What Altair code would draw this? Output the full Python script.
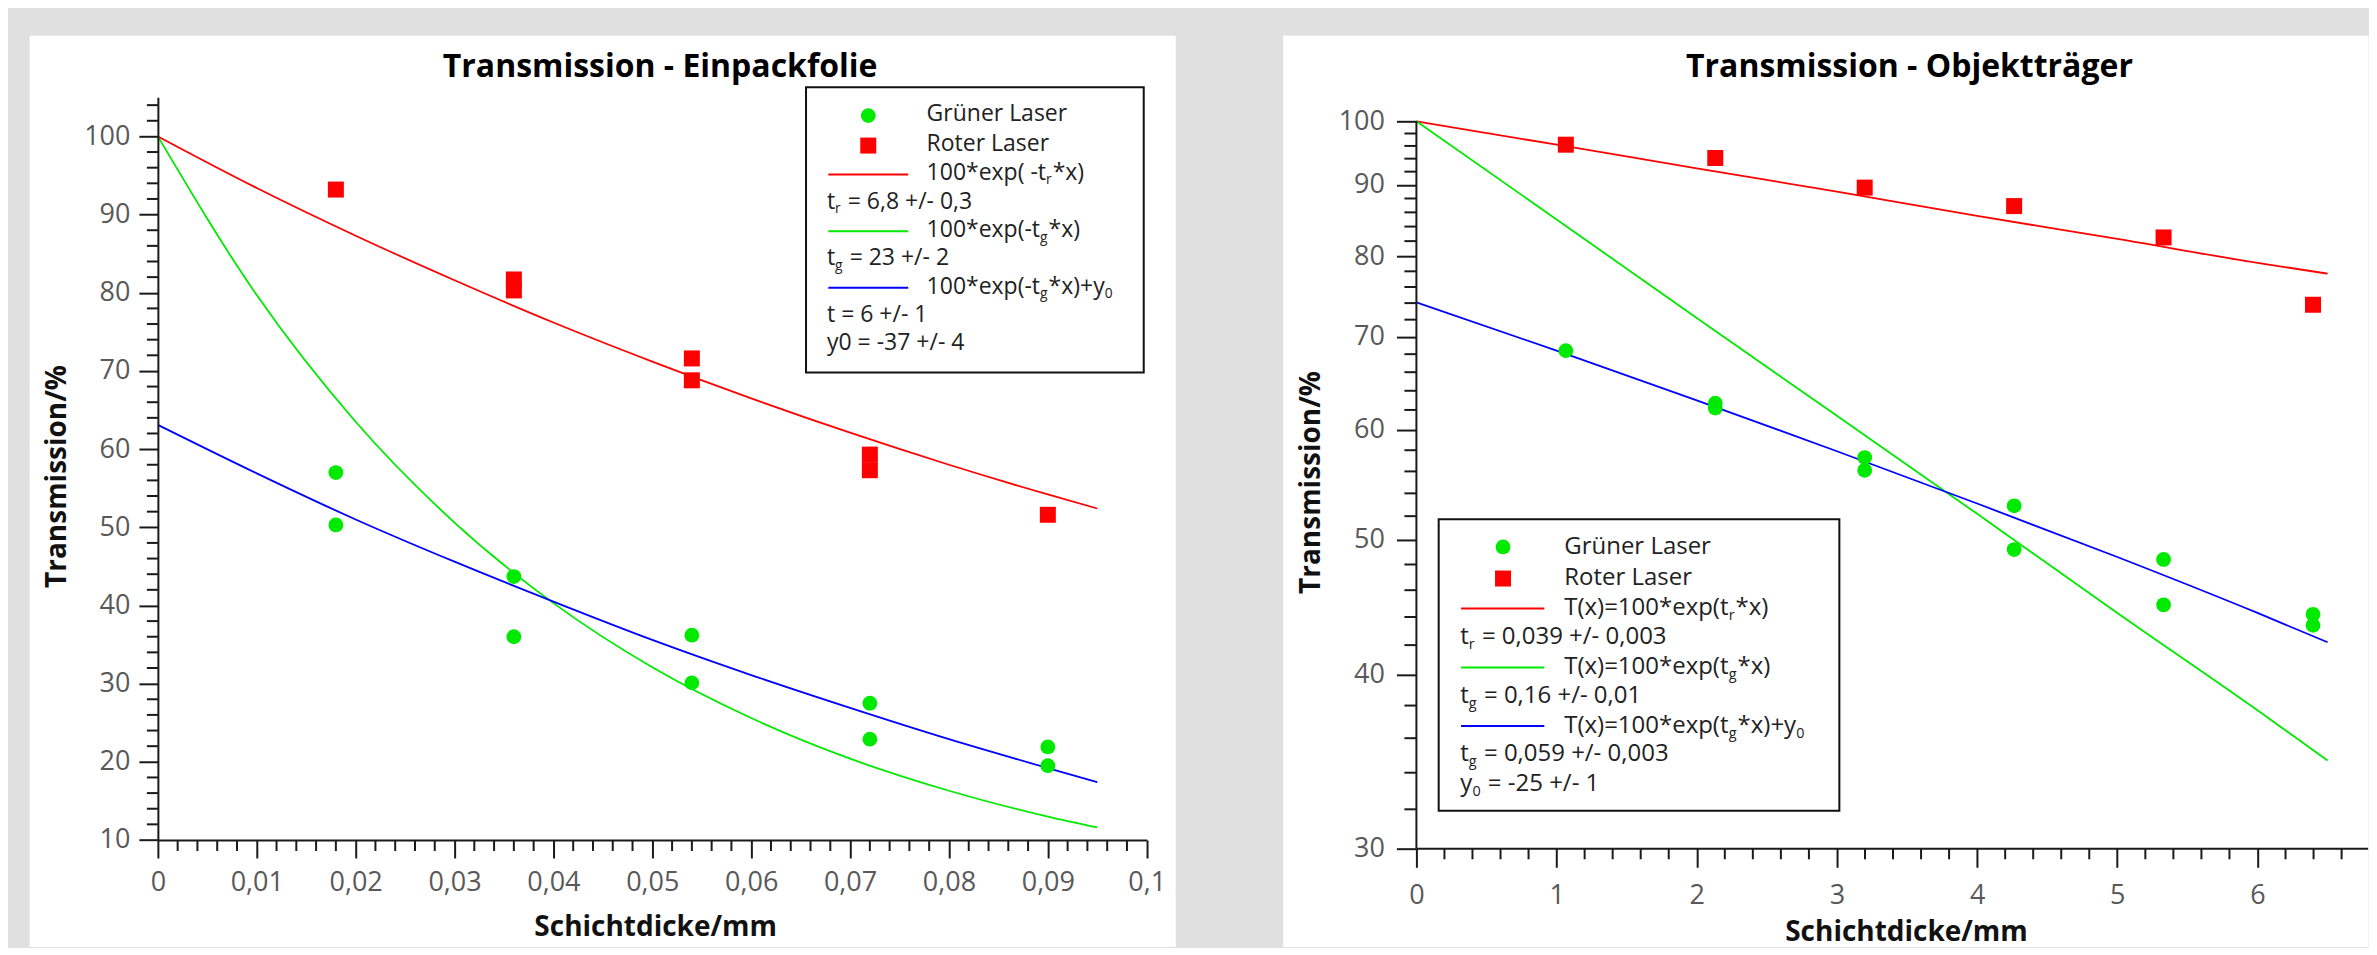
import altair as alt
import pandas as pd

FONT = "Open Sans"
RED = "#ff0000"
GREEN = "#00ea00"
BLUE = "#0000ff"
AX = "#1a1a1a"
LAB = "#595959"
TXT = "#222222"

# ---------------- Left panel: Einpackfolie ----------------
l_red_x = [0.018, 0.036, 0.036, 0.054, 0.054, 0.072, 0.072, 0.090]
l_red_y = [93.2, 81.7, 80.3, 71.6, 68.8, 59.3, 57.3, 51.6]
l_green_x = [0.018, 0.018, 0.036, 0.036, 0.054, 0.054, 0.072, 0.072, 0.090, 0.090]
l_green_y = [57.0, 50.3, 43.7, 36.0, 36.2, 30.1, 27.5, 22.9, 21.9, 19.5]
l_fit_x = [0, 0.01, 0.02, 0.03, 0.04, 0.05, 0.06, 0.07, 0.08, 0.09, 0.095]
l_fit_red = [100, 93.4, 87.3, 81.6, 76.2, 71.2, 66.5, 62.1, 58.0, 54.2, 52.4]
l_fit_green = [100, 79.7, 63.5, 50.6, 40.3, 32.1, 25.6, 20.4, 16.3, 13.0, 11.6]
l_fit_blue = [63.1, 56.9, 51.0, 45.6, 40.5, 35.6, 31.1, 26.9, 22.9, 19.2, 17.4]
l_xticks = [0, 0.01, 0.02, 0.03, 0.04, 0.05, 0.06, 0.07, 0.08, 0.09, 0.1]
l_yticks = [10, 20, 30, 40, 50, 60, 70, 80, 90, 100]

# ---------------- Right panel: Objekttraeger ----------------
r_red_x = [1.066, 2.132, 3.198, 4.264, 5.33, 6.396]
r_red_y = [96.2, 94.1, 89.6, 86.9, 82.5, 73.8]
r_green_x = [1.066, 2.132, 2.132, 3.198, 3.198, 4.264, 4.264, 5.33, 5.33, 6.396, 6.396]
r_green_y = [68.4, 62.7, 62.2, 57.3, 56.1, 52.9, 49.2, 48.4, 44.9, 44.2, 43.4]
r_fit_x = [0, 1, 2, 3, 4, 5, 6, 6.5]
r_fit_red = [100, 96.2, 92.5, 89.0, 85.5, 82.3, 79.1, 77.7]
r_fit_green = [100, 85.0, 72.2, 61.4, 52.2, 44.3, 37.7, 34.7]
r_fit_blue = [74.1, 68.4, 63.0, 57.9, 53.1, 48.6, 44.3, 42.2]
r_xticks = [0, 1, 2, 3, 4, 5, 6]
r_yticks = [30, 40, 50, 60, 70, 80, 90, 100]

# minor tick positions
l_xminor = [round(i * 0.002, 3) for i in range(1, 50) if i % 5]
l_yminor = [v for v in range(12, 105, 2) if v % 10]
r_xminor = [round(i * 0.2, 1) for i in range(1, 34) if i % 5]
r_yminor = [v for v in range(32, 100, 2) if v % 10]

# Open Sans advance widths (units of 1/2048 em) for subscript placement
W = {"0": 1171, "1": 1171, "2": 1171, "3": 1171, "*": 1130, "e": 1149, "x": 1073,
     "p": 1255, "(": 606, ")": 606, " ": 532, "-": 659, "t": 723, "T": 1139,
     "=": 1171, "y": 1028, "r": 836, "g": 1122, "+": 1171}


def tw(s, size):
    return sum(W.get(c, 1100) for c in s) / 2048.0 * size


def one():
    return pd.DataFrame({"k": [0]})


def rect(x, x2, y, y2, fill, stroke=None):
    kw = dict(fill=fill)
    if stroke:
        kw.update(stroke=stroke, strokeWidth=2)
    return alt.Chart(one()).mark_rect(**kw).encode(
        x=alt.value(x), x2=alt.value(x2), y=alt.value(y), y2=alt.value(y2))


def text(s, x, y, size, color=TXT, weight="normal", align="left"):
    return alt.Chart(pd.DataFrame({"t": [s]})).mark_text(
        align=align, baseline="alphabetic", font=FONT, fontSize=size,
        fontWeight=weight, color=color).encode(
        x=alt.value(x), y=alt.value(y), text="t:N")


def rich(parts, x, y, size):
    out = []
    cx = x
    for s, sub in parts:
        fs = size * 0.6 if sub else size
        yy = y + size * 0.2 if sub else y
        lead = len(s) - len(s.lstrip(" "))
        cx += tw(" " * lead, fs)
        body = s.lstrip(" ")
        out.append(text(body, cx, yy, fs))
        cx += tw(body, fs) + (1.0 if sub else 0)
    return out


def sym(shape, color, size, x, y):
    return alt.Chart(one()).mark_point(shape=shape, filled=True, size=size,
                                       opacity=1, color=color, strokeWidth=0).encode(
        x=alt.value(x), y=alt.value(y))


def seg(color, x, x2, y):
    return alt.Chart(one()).mark_rule(color=color, strokeWidth=2).encode(
        x=alt.value(x), x2=alt.value(x2), y=alt.value(y))


common = dict(grid=False, zindex=1, domainColor=AX, domainWidth=2, tickColor=AX,
              tickWidth=2, labelFont=FONT, labelColor=LAB, labelFontSize=27,
              labelFlush=False, labelOverlap=False, titleFont=FONT,
              titleFontWeight="bold", titleColor="#111111", titleFontSize=28)


def panel(W_, H_, xs, ys, xaxis, yaxis, red_x, red_y, green_x, green_y,
          fit_x, fits, xminor, yminor, ymin_len, bg, title, title_xy, legend,
          yline=None):
    X = lambda: alt.X("x:Q", scale=xs, axis=xaxis)
    Y = lambda: alt.Y("y:Q", scale=ys, axis=yaxis)
    layers = [rect(*bg, fill="white")]
    for col, vals in fits:
        layers.append(alt.Chart(pd.DataFrame({"x": fit_x, "y": vals})).mark_line(
            color=col, strokeWidth=1.8, interpolate="monotone").encode(x=X(), y=Y()))
    layers.append(alt.Chart(pd.DataFrame({"x": green_x, "y": green_y})).mark_point(
        shape="circle", filled=True, size=219, opacity=1, color=GREEN, strokeWidth=0
    ).encode(x=X(), y=Y()))
    layers.append(alt.Chart(pd.DataFrame({"x": red_x, "y": red_y})).mark_point(
        shape="square", filled=True, size=256, opacity=1, color=RED, strokeWidth=0
    ).encode(x=X(), y=Y()))
    layers.append(alt.Chart(pd.DataFrame({"x": xminor})).mark_rule(
        color=AX, strokeWidth=2).encode(
        x=X(), y=alt.value(H_), y2=alt.value(H_ + 11)))
    layers.append(alt.Chart(pd.DataFrame({"y": yminor})).mark_rule(
        color=AX, strokeWidth=2).encode(
        y=Y(), x=alt.value(-ymin_len), x2=alt.value(0)))
    if yline:
        layers.append(alt.Chart(pd.DataFrame({"y": [yline[0]], "y2": [yline[1]]})).mark_rule(
            color=AX, strokeWidth=2).encode(y=Y(), y2="y2:Q", x=alt.value(0)))
    layers += legend
    layers.append(text(title, title_xy[0], title_xy[1], 32, "#000000", "bold", "center"))
    return alt.layer(*layers).properties(width=W_, height=H_)


# ---- left ----
LW, LH = 989.7, 743.3
xaxis_L = alt.Axis(values=l_xticks, labelExpr="replace(format(datum.value, '.2~f'), '.', ',')",
                   tickSize=18, labelPadding=12, title="Schichtdicke/mm",
                   titleX=497.7, titleY=96, titleBaseline="alphabetic", **common)
yaxis_L = alt.Axis(values=l_yticks, format="d", tickSize=19, labelPadding=9,
                   title="Transmission/%", titleX=-100.6, titleY=379,
                   titleBaseline="middle", **common)
LS = 23
legend_L = [rect(648.7, 986.7, -10, 275.3, fill="white", stroke="#111111"),
            sym("circle", GREEN, 219, 711, 18.3),
            sym("square", RED, 256, 711, 48.3),
            text("Grüner Laser", 769.4, 24.0, LS),
            text("Roter Laser", 769.4, 54.0, LS),
            seg(RED, 671, 751, 77.3),
            seg(GREEN, 671, 751, 134),
            seg(BLUE, 671, 751, 190.6)]
legend_L += rich([("100*exp( -t", False), ("r", True), ("*x)", False)], 769.4, 82.6, LS)
legend_L += rich([("t", False), ("r", True), (" = 6,8 +/- 0,3", False)], 669.7, 111.6, LS)
legend_L += rich([("100*exp(-t", False), ("g", True), ("*x)", False)], 769.4, 140, LS)
legend_L += rich([("t", False), ("g", True), (" = 23 +/- 2", False)], 669.7, 168.3, LS)
legend_L += rich([("100*exp(-t", False), ("g", True), ("*x)+y", False), ("0", True)], 769.4, 196.6, LS)
legend_L += [text("t = 6 +/- 1", 669.7, 225, LS), text("y0 = -37 +/- 4", 669.7, 253.3, LS)]

left = panel(LW, LH, alt.Scale(domain=[0, 0.1], nice=False, zero=False),
             alt.Scale(domain=[10, 105], nice=False, zero=False), xaxis_L, yaxis_L,
             l_red_x, l_red_y, l_green_x, l_green_y, l_fit_x,
             [(RED, l_fit_red), (GREEN, l_fit_green), (BLUE, l_fit_blue)],
             l_xminor, l_yminor, 11, (-128.3, 1018.7, -61.7, 850.3),
             "Transmission - Einpackfolie", (502.7, -20.7), legend_L)

# ---- right (plot origin shares the left panel's top; y=100 sits 24px lower) ----
RW, RH = 952, 751.6
D = 24
xaxis_R = alt.Axis(values=r_xticks, format="d", tickSize=19, labelPadding=15,
                   title="Schichtdicke/mm", titleX=490, titleY=92,
                   titleBaseline="alphabetic", **common)
yaxis_R = alt.Axis(values=r_yticks, format="d", tickSize=20, labelPadding=12,
                   title="Transmission/%", titleX=-105, titleY=361 + D,
                   titleBaseline="middle", domain=False, **common)
RS = 24
legend_R = [rect(22.3, 423.3, 398.3 + D, 690 + D, fill="white", stroke="#111111"),
            sym("circle", GREEN, 219, 86.7, 426 + D),
            sym("square", RED, 256, 86.7, 457.6 + D),
            text("Grüner Laser", 148, 432.6 + D, RS),
            text("Roter Laser", 148, 464.3 + D, RS),
            seg(RED, 44.7, 128, 487.6 + D),
            seg(GREEN, 44.7, 128, 546.6 + D),
            seg(BLUE, 44.7, 128, 605.3 + D)]
legend_R += rich([("T(x)=100*exp(t", False), ("r", True), ("*x)", False)], 148, 494.3 + D, RS)
legend_R += rich([("t", False), ("r", True), (" = 0,039 +/- 0,003", False)], 44, 523.3 + D, RS)
legend_R += rich([("T(x)=100*exp(t", False), ("g", True), ("*x)", False)], 148, 553.3 + D, RS)
legend_R += rich([("t", False), ("g", True), (" = 0,16 +/- 0,01", False)], 44, 582 + D, RS)
legend_R += rich([("T(x)=100*exp(t", False), ("g", True), ("*x)+y", False), ("0", True)], 148, 612 + D, RS)
legend_R += rich([("t", False), ("g", True), (" = 0,059 +/- 0,003", False)], 44, 640 + D, RS)
legend_R += rich([("y", False), ("0", True), (" = -25 +/- 1", False)], 44, 670 + D, RS)

right = panel(RW, RH, alt.Scale(domain=[0, 6.7855], nice=False, zero=False),
              alt.Scale(type="log", domain=[30, 104.05], nice=False), xaxis_R, yaxis_R,
              r_red_x, r_red_y, r_green_x, r_green_y, r_fit_x,
              [(RED, r_fit_red), (GREEN, r_fit_green), (BLUE, r_fit_blue)],
              r_xminor, r_yminor, 12, (-133.4, 953, -61.7, 850.3),
              "Transmission - Objektträger", (493.5, -20.7), legend_R,
              yline=(30, 100))

chart = alt.hconcat(left, right, spacing=106.6).properties(
    padding={"left": 21, "top": 27, "right": 0, "bottom": 0}
).configure(background="#e0e0e0", font=FONT).configure_view(strokeWidth=0)

chart.save("out.html", embed_options={"renderer": "svg", "actions": False})
